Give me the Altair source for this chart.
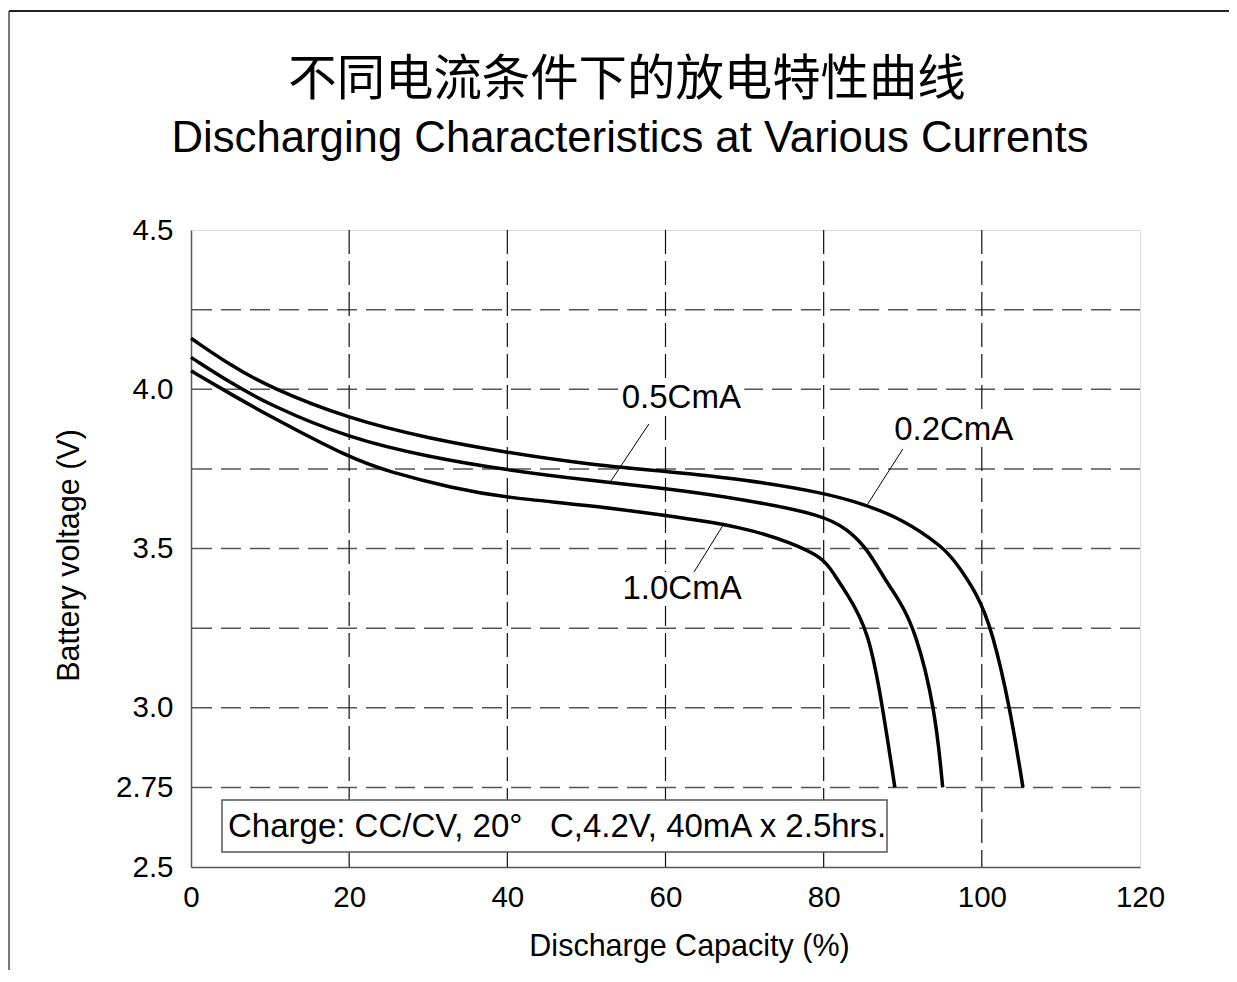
import altair as alt
import pandas as pd

# ---- data ----
series_names = ["0.2CmA", "0.5CmA", "1.0CmA"]

cap_02 = [0, 5, 10, 20, 30, 40, 50, 60, 70, 80, 85, 90, 95, 96.5, 99.4, 101.3, 103.6, 105.2]
volt_02 = [4.160, 4.075, 4.005, 3.907, 3.846, 3.801, 3.765, 3.742, 3.717, 3.675, 3.640, 3.592,
           3.506, 3.464, 3.359, 3.244, 2.996, 2.75]

cap_05 = [0, 5, 10, 20, 30, 40, 50, 60, 70, 80, 83, 85.5, 87.8, 89.5, 91.6, 94.1, 95.05]
volt_05 = [4.100, 4.020, 3.950, 3.846, 3.788, 3.746, 3.715, 3.689, 3.654, 3.605, 3.56, 3.50,
           3.40, 3.34, 3.244, 2.996, 2.75]

cap_10 = [0, 5, 10, 20, 25, 33, 40, 50, 60, 70, 76, 80, 81.2, 82.9, 85.7, 87.5, 89.0]
volt_10 = [4.058, 3.985, 3.915, 3.785, 3.741, 3.69, 3.659, 3.637, 3.604, 3.567, 3.517, 3.47,
           3.423, 3.360, 3.244, 2.996, 2.75]

x_ticks = [0, 20, 40, 60, 80, 100, 120]
y_ticks = [2.5, 2.75, 3.0, 3.5, 4.0, 4.5]
x_grid = [20, 40, 60, 80, 100]
y_grid = [4.25, 4.0, 3.75, 3.5, 3.25, 3.0, 2.75]

# label annotations (text position and leader line ends, in data units)
label_text = ["0.5CmA", "0.2CmA", "1.0CmA"]
label_cap = [62.0, 96.45, 62.1]
label_volt = [3.973, 3.872, 3.373]
leader_cap1 = [57.9, 90.0, 67.3]
leader_volt1 = [3.891, 3.812, 3.574]
leader_cap2 = [53.1, 85.5, 63.6]
leader_volt2 = [3.712, 3.637, 3.426]

title_cn = "不同电流条件下的放电特性曲线"
title_en = "Discharging Characteristics at Various Currents"
x_title = "Discharge Capacity (%)"
y_title = "Battery voltage (V)"
note_text = "Charge: CC/CV, 20°\u00a0\u00a0\u00a0C,4.2V, 40mA x 2.5hrs."

# ---- tables ----
rows = []
for name, xs, vs in zip(series_names, [cap_02, cap_05, cap_10], [volt_02, volt_05, volt_10]):
    for a, b in zip(xs, vs):
        rows.append({"series": name, "cap": a, "volt": b})
curves = pd.DataFrame(rows)

labels = pd.DataFrame({
    "text": label_text, "cap": label_cap, "volt": label_volt,
    "cap1": leader_cap1, "volt1": leader_volt1, "cap2": leader_cap2, "volt2": leader_volt2,
})

FONT = "Liberation Sans"
W, H = 949, 637

xscale = alt.Scale(domain=[0, 120], nice=False, zero=False)
yscale = alt.Scale(domain=[2.5, 4.5], nice=False, zero=False)

x_axis = alt.Axis(values=x_ticks, ticks=False, domain=True, domainColor="#555", domainWidth=1.5,
                  grid=False, labelFontSize=29.5,
                  labelFont=FONT, labelColor="#000", labelPadding=16, labelFlush=False,
                  title=x_title, titleFont=FONT, titleFontSize=30.5, titleFontWeight="normal",
                  titleColor="#000", titleX=498, titleY=88, titleBaseline="alphabetic",
                  titleAlign="center")
y_axis = alt.Axis(values=y_ticks, ticks=False, domain=True, domainColor="#555", domainWidth=1.5,
                  grid=False, labelFontSize=29.5,
                  labelFont=FONT, labelColor="#000", labelPadding=18, labelFlush=False,
                  labelExpr="datum.value == 2.75 ? '2.75' : format(datum.value, '.1f')",
                  title=y_title, titleFont=FONT, titleFontSize=30.5, titleFontWeight="normal",
                  titleColor="#000", titleX=-122, titleY=325, titleAngle=270,
                  titleAlign="center", titleBaseline="middle")

X = lambda f: alt.X(f, scale=xscale, axis=x_axis)
Y = lambda f: alt.Y(f, scale=yscale, axis=y_axis)

hgrid = alt.Chart(pd.DataFrame({"volt": y_grid})).mark_rule(
    color="#555", strokeWidth=1.5, strokeDash=[20, 9]
).encode(y=Y("volt:Q"))

vgrid = alt.Chart(pd.DataFrame({"cap": x_grid})).mark_rule(
    color="#111", strokeWidth=1.2, strokeDash=[24, 7]
).encode(x=X("cap:Q"))

one = alt.Data(values=[{"k": 1}])

note_box = alt.Chart(one).mark_rect(fill="white", stroke="#555", strokeWidth=1.5).encode(
    x=alt.value(31), x2=alt.value(696), y=alt.value(570), y2=alt.value(622))
note = alt.Chart(one).mark_text(align="left", baseline="middle", font=FONT, fontSize=33,
                                color="#000").encode(
    x=alt.value(37), y=alt.value(597), text=alt.value(note_text))

lines = alt.Chart(curves).mark_line(color="#000", strokeWidth=3.5, interpolate="basis").encode(
    x=X("cap:Q"),
    y=Y("volt:Q"),
    detail="series:N",
    order="cap:Q",
)

leaders = alt.Chart(labels).mark_rule(color="#000", strokeWidth=1).encode(
    x=X("cap1:Q"), y=Y("volt1:Q"), x2="cap2:Q", y2="volt2:Q")

label_bg = alt.Chart(labels).mark_point(
    shape="M-1,-0.27L1,-0.27L1,0.27L-1,0.27Z", filled=True, fill="white", opacity=1,
    strokeWidth=0, size=126 * 126
).encode(x=X("cap:Q"), y=Y("volt:Q"))

label_txt = alt.Chart(labels).mark_text(font=FONT, fontSize=33, color="#000", align="center",
                                        baseline="middle").encode(
    x=X("cap:Q"), y=Y("volt:Q"), text="text:N")

t_cn = alt.Chart(one).mark_text(font="Noto Sans CJK SC", fontSize=48.4, color="#000",
                                align="center", baseline="middle").encode(
    x=alt.value(436), y=alt.value(-150), text=alt.value(title_cn))
t_en = alt.Chart(one).mark_text(font=FONT, fontSize=43.7, color="#000", align="center",
                                baseline="alphabetic").encode(
    x=alt.value(439), y=alt.value(-78), text=alt.value(title_en))

frame_left = alt.Chart(one).mark_rule(color="#777", strokeWidth=2).encode(
    x=alt.value(-182), y=alt.value(-219), y2=alt.value(900))
frame_top = alt.Chart(one).mark_rule(color="#222", strokeWidth=2).encode(
    x=alt.value(-182), x2=alt.value(1200), y=alt.value(-219))

chart = alt.layer(
    hgrid, vgrid, note_box, note, lines, leaders, label_bg, label_txt, t_cn, t_en,
    frame_left, frame_top
).properties(
    width=W, height=H,
    autosize=alt.AutoSizeParams(type="none"),
    padding={"left": 183, "top": 222, "right": 89, "bottom": 103},
).configure_view(
    stroke="#555", strokeWidth=1.5
).configure(background="white")

chart.save("out.html", embed_options={"renderer": "svg", "actions": False})
